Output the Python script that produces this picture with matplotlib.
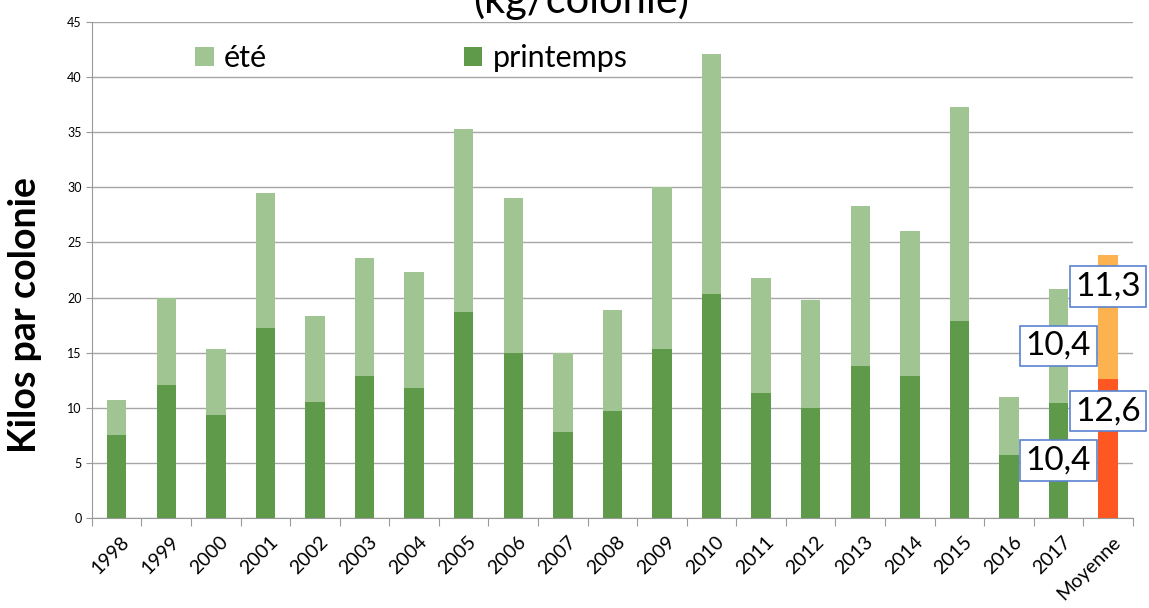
import matplotlib
matplotlib.use("Agg")
import matplotlib.pyplot as plt
import numpy as np

plt.rcParams["font.family"] = ["Lato", "DejaVu Sans"]

# data
categories = ["1998", "1999", "2000", "2001", "2002", "2003", "2004", "2005", "2006", "2007",
              "2008", "2009", "2010", "2011", "2012", "2013", "2014", "2015", "2016", "2017", "Moyenne"]
printemps = [7.5, 12.1, 9.3, 17.2, 10.5, 12.9, 11.8, 18.7, 15.0, 7.8,
             9.7, 15.3, 20.3, 11.3, 10.0, 13.8, 12.9, 17.9, 5.7, 10.4, 12.6]
ete = [3.2, 7.9, 6.0, 12.3, 7.8, 10.7, 10.5, 16.6, 14.0, 7.2,
       9.2, 14.7, 21.8, 10.5, 9.8, 14.5, 13.1, 19.4, 5.3, 10.4, 11.3]

green_dark = "#5f994a"
green_light = "#a1c493"
moy_bottom = "#ff5722"
moy_top = "#fbb24f"

plt.figure(figsize=(11.49, 6.08), dpi=100)
ax = plt.axes([0.080, 0.148, 0.906, 0.816])

x = np.arange(len(categories))
width = 0.39
col_p = [green_dark] * (len(categories) - 1) + [moy_bottom]
col_e = [green_light] * (len(categories) - 1) + [moy_top]

bars_p = ax.bar(x, printemps, width, color=col_p, label="printemps", zorder=3)
bars_e = ax.bar(x, ete, width, bottom=printemps, color=col_e, label="été", zorder=3)

ax.set_ylim(0, 45)
ax.set_xlim(-0.5, len(categories) - 0.5)
ax.set_yticks(range(0, 46, 5))
ax.tick_params(axis="y", labelsize=9, length=4, color="#999999")
ax.yaxis.grid(True, color="#a6a6a6", linewidth=1, zorder=0)

# category ticks between bars, labels at bar centres
ax.set_xticks(np.arange(-0.5, len(categories), 1.0))
ax.set_xticklabels([])
ax.set_xticks(x + 0.08, minor=True)
ax.set_xticklabels(categories, minor=True, rotation=45, ha="right", rotation_mode="anchor", fontsize=14)
ax.tick_params(axis="x", which="major", length=6, color="#999999")
ax.tick_params(axis="x", which="minor", length=0, pad=11)

for side in ["top", "right"]:
    ax.spines[side].set_visible(False)
for side in ["left", "bottom"]:
    ax.spines[side].set_color("#999999")

ax.set_ylabel("Kilos par colonie", fontsize=27, fontweight="bold")
ax.yaxis.set_label_coords(-0.048, 0.41)

# legend: été first, then printemps
ax.legend([bars_e, bars_p], ["été", "printemps"], loc="upper left", bbox_to_anchor=(0.073, 1.01),
          ncol=2, frameon=False, fontsize=22, columnspacing=6.45, handlelength=0.6,
          handleheight=0.6, handletextpad=0.33)

# data labels on the last two bars
box = dict(boxstyle="square,pad=0.16", facecolor="white", edgecolor="#5b83cf", linewidth=1.2)
i17 = len(categories) - 2
im = len(categories) - 1
ax.text(x[i17], printemps[i17] / 2, "10,4", fontsize=24, ha="center", va="center", bbox=box, zorder=5)
ax.text(x[i17], printemps[i17] + ete[i17] / 2, "10,4", fontsize=24, ha="center", va="center", bbox=box, zorder=5)
ax.text(x[im], printemps[im] - 2.9, "12,6", fontsize=24, ha="center", va="center", bbox=box, zorder=5)
ax.text(x[im], printemps[im] + ete[im] - 2.9, "11,3", fontsize=24, ha="center", va="center", bbox=box, zorder=5)

# title cut off at the top of the picture
plt.figtext(0.506, 0.979, "(kg/colonie)", fontsize=30, ha="center", va="baseline")

plt.savefig("out.png", dpi=100)
